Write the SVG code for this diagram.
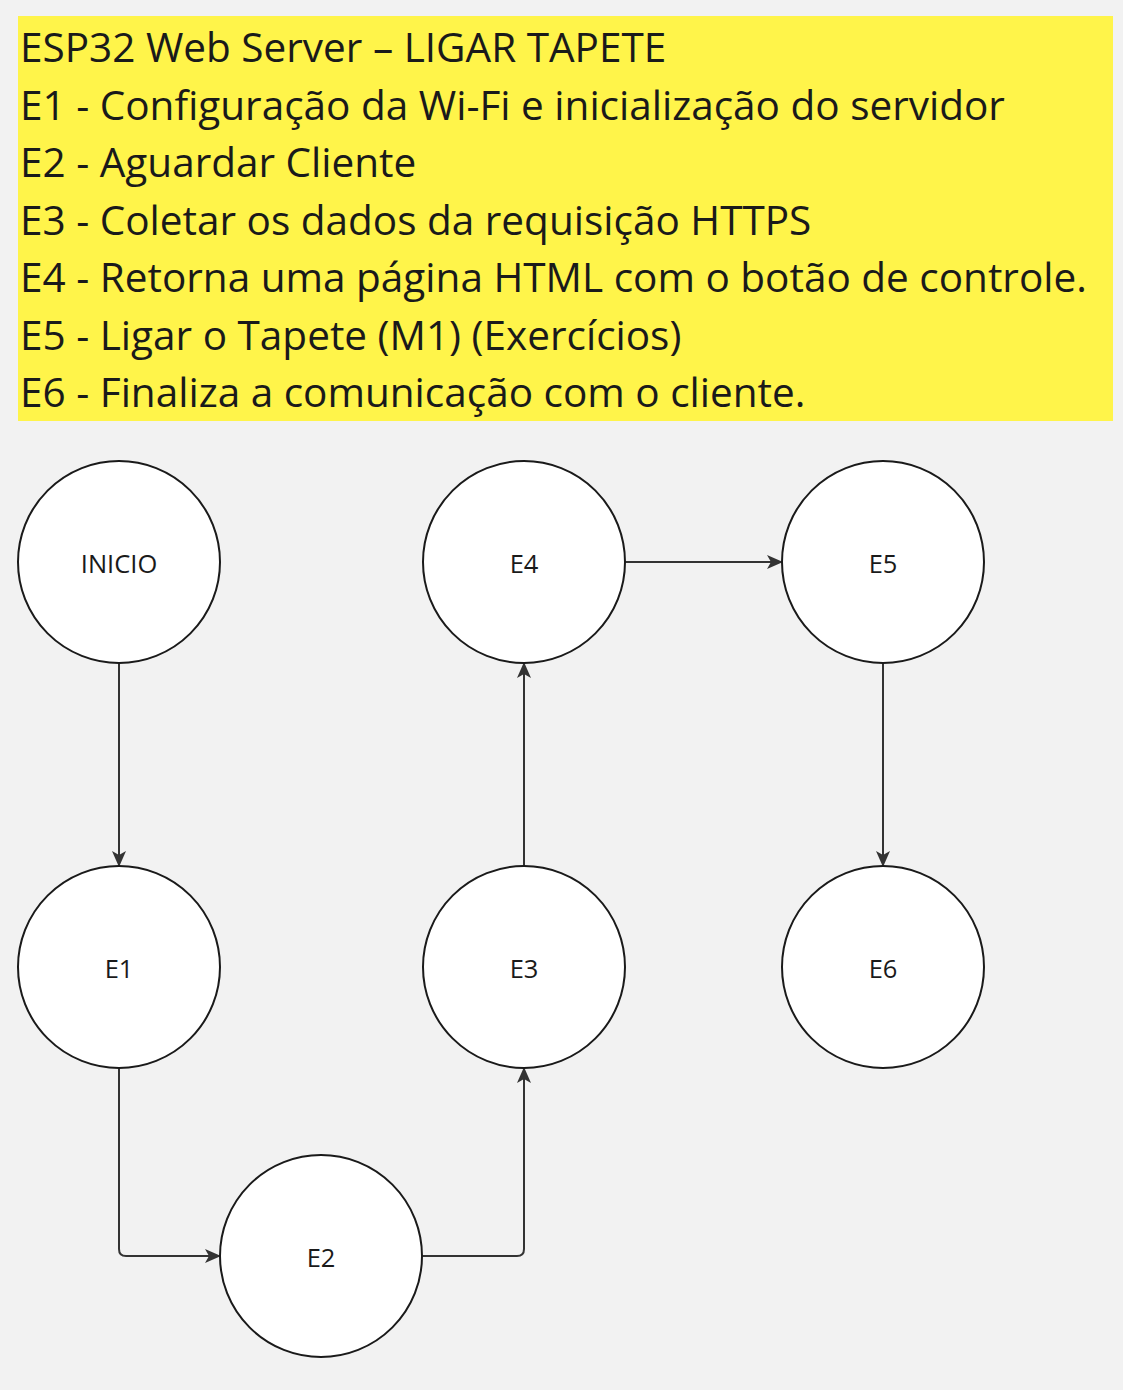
<svg xmlns="http://www.w3.org/2000/svg" width="1123" height="1390" viewBox="0 0 1123 1390">
<defs>
<style>
.title{font-family:"Open Sans","Noto Sans",sans-serif;font-size:40.5px;fill:#1a1a1a;}
.node circle{fill:#ffffff;stroke:#1a1a1a;stroke-width:2;}
.node text{font-family:"Open Sans","Noto Sans",sans-serif;font-size:25.5px;fill:#1a1a1a;text-anchor:middle;dominant-baseline:central;}
.conn path{fill:none;stroke:#333333;stroke-width:2;}
</style>
<marker id="arr" markerWidth="18" markerHeight="18" refX="16" refY="9" orient="auto" markerUnits="userSpaceOnUse">
<path d="M1,2 L17,9 L1,16 L5,9 Z" fill="#333333"/>
</marker>
</defs>
<rect x="0" y="0" width="1123" height="1390" fill="#f2f2f2"/>
<g id="legend">
<rect x="18" y="16" width="1095" height="405" fill="#fff44a"/>
<text class="title" x="20" y="62">ESP32 Web Server – LIGAR TAPETE</text>
<text class="title" x="20" y="120">E1 - Configuração da Wi-Fi e inicialização do servidor</text>
<text class="title" x="20" y="177">E2 - Aguardar Cliente</text>
<text class="title" x="20" y="235">E3 - Coletar os dados da requisição HTTPS</text>
<text class="title" x="20" y="292">E4 - Retorna uma página HTML com o botão de controle.</text>
<text class="title" x="20" y="350">E5 - Ligar o Tapete (M1) (Exercícios)</text>
<text class="title" x="20" y="407">E6 - Finaliza a comunicação com o cliente.</text>
</g>
<g id="connectors" class="conn">
<path d="M119,663 L119,866" marker-end="url(#arr)"/>
<path d="M119,1068 L119,1249 Q119,1256 126,1256 L220,1256" marker-end="url(#arr)"/>
<path d="M422,1256 L517,1256 Q524,1256 524,1249 L524,1068" marker-end="url(#arr)"/>
<path d="M524,866 L524,663" marker-end="url(#arr)"/>
<path d="M625,562 L782,562" marker-end="url(#arr)"/>
<path d="M883,663 L883,866" marker-end="url(#arr)"/>
</g>
<g id="node-inicio" class="node"><circle cx="119" cy="562" r="101"/><text x="119" y="563">INICIO</text></g>
<g id="node-e4" class="node"><circle cx="524" cy="562" r="101"/><text x="524" y="563">E4</text></g>
<g id="node-e5" class="node"><circle cx="883" cy="562" r="101"/><text x="883" y="563">E5</text></g>
<g id="node-e1" class="node"><circle cx="119" cy="967" r="101"/><text x="119" y="968">E1</text></g>
<g id="node-e3" class="node"><circle cx="524" cy="967" r="101"/><text x="524" y="968">E3</text></g>
<g id="node-e6" class="node"><circle cx="883" cy="967" r="101"/><text x="883" y="968">E6</text></g>
<g id="node-e2" class="node"><circle cx="321" cy="1256" r="101"/><text x="321" y="1257">E2</text></g>
</svg>
